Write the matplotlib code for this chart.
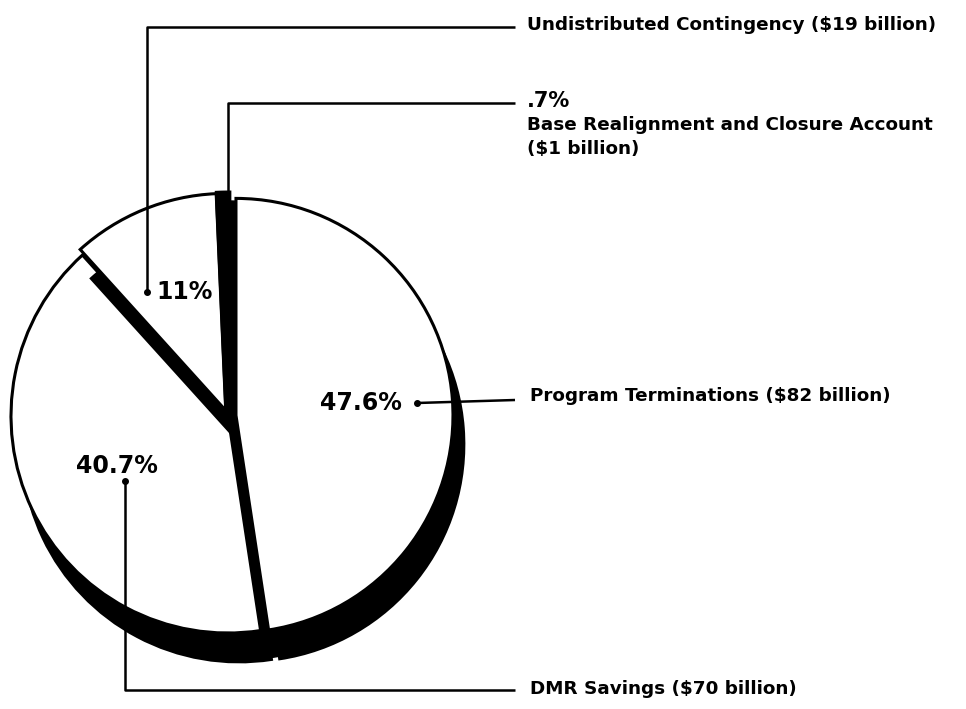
import matplotlib
matplotlib.use("Agg")
import matplotlib.pyplot as plt

# Data
categories = ["Program Terminations", "DMR Savings", "Undistributed Contingency",
              "Base Realignment and Closure Account"]
values = [47.6, 40.7, 11.0, 0.7]
pct_labels = ["47.6%", "40.7%", "11%", ".7%"]
billions = [82, 70, 19, 1]

W, H = 966, 709
fig = plt.figure(figsize=(W / 100, H / 100), dpi=100)
ax = fig.add_axes([0, 0, 1, 1])

cx, cy = 228, H - 416
R = 217
sh = (11, -29)
explode = [8, 0, 6, 5]

# black base filling the gaps between exploded slices (top and depth)
bw, _ = ax.pie(values, startangle=90, counterclock=False, center=(cx, cy),
               radius=R - 2, colors=["black"] * 4,
               wedgeprops=dict(edgecolor="black", linewidth=1))
bw2, _ = ax.pie(values, startangle=90, counterclock=False, center=(cx + sh[0], cy + sh[1]),
                radius=R - 2, colors=["black"] * 4,
                wedgeprops=dict(edgecolor="black", linewidth=1))
# shadow (3-D depth) pie
sw, _ = ax.pie(values, startangle=90, counterclock=False, center=(cx + sh[0], cy + sh[1]),
               radius=R, explode=explode, colors=["black"] * 4,
               wedgeprops=dict(edgecolor="black", linewidth=2))
# top pie
tw, _ = ax.pie(values, startangle=90, counterclock=False, center=(cx, cy),
               radius=R, explode=explode, colors=["white", "white", "white", "black"],
               wedgeprops=dict(edgecolor="black", linewidth=2.2))
tw[3].set_linewidth(5)
# draw order
for w in list(bw) + list(bw2):
    w.set_zorder(0.5)
sw[0].set_zorder(1); sw[1].set_zorder(1); sw[3].set_zorder(1)
tw[1].set_zorder(2)
sw[2].set_zorder(3)
tw[2].set_zorder(4)
tw[3].set_zorder(5)
tw[0].set_zorder(6)

ax.set_xlim(0, W)
ax.set_ylim(0, H)
ax.set_aspect("equal")
ax.axis("off")

def Y(p):
    return H - p

fam = ["DejaVu Sans"]
lk = dict(color="black", lw=1.8, zorder=10, solid_capstyle="butt")
big = dict(fontsize=17, fontweight="bold", family=fam, zorder=11, va="center")
small = dict(fontsize=13.2, fontweight="bold", family=fam, zorder=11, va="center")

# Undistributed Contingency
ax.plot([147, 147, 515], [Y(292), Y(27), Y(27)], **lk)
ax.plot([147], [Y(292)], "o", color="black", ms=4, zorder=11)
ax.text(156, Y(292), pct_labels[2], ha="left", **big)
ax.text(527, Y(25), f"{categories[2]} (${billions[2]} billion)", ha="left", **small)

# Base Realignment
ax.plot([228, 228, 515], [Y(194), Y(103), Y(103)], **lk)
ax.text(527, Y(101), pct_labels[3], ha="left", fontsize=15, fontweight="bold",
        family=fam, zorder=11, va="center")
ax.text(527, Y(125), categories[3], ha="left", **small)
ax.text(527, Y(149), f"(${billions[3]} billion)", ha="left", **small)

# Program Terminations
ax.plot([417, 515], [Y(403), Y(400)], **lk)
ax.plot([417], [Y(403)], "o", color="black", ms=4, zorder=11)
ax.text(402, Y(403), pct_labels[0], ha="right", **big)
ax.text(530, Y(396), f"{categories[0]} (${billions[0]} billion)", ha="left", **small)

# DMR Savings
ax.plot([125, 125, 515], [Y(481), Y(690), Y(690)], **lk)
ax.plot([125], [Y(481)], "o", color="black", ms=4, zorder=11)
ax.text(117, Y(466), pct_labels[1], ha="center", **big)
ax.text(530, Y(689), f"{categories[1]} (${billions[1]} billion)", ha="left", **small)

fig.savefig("out.png", dpi=100, facecolor="white")
